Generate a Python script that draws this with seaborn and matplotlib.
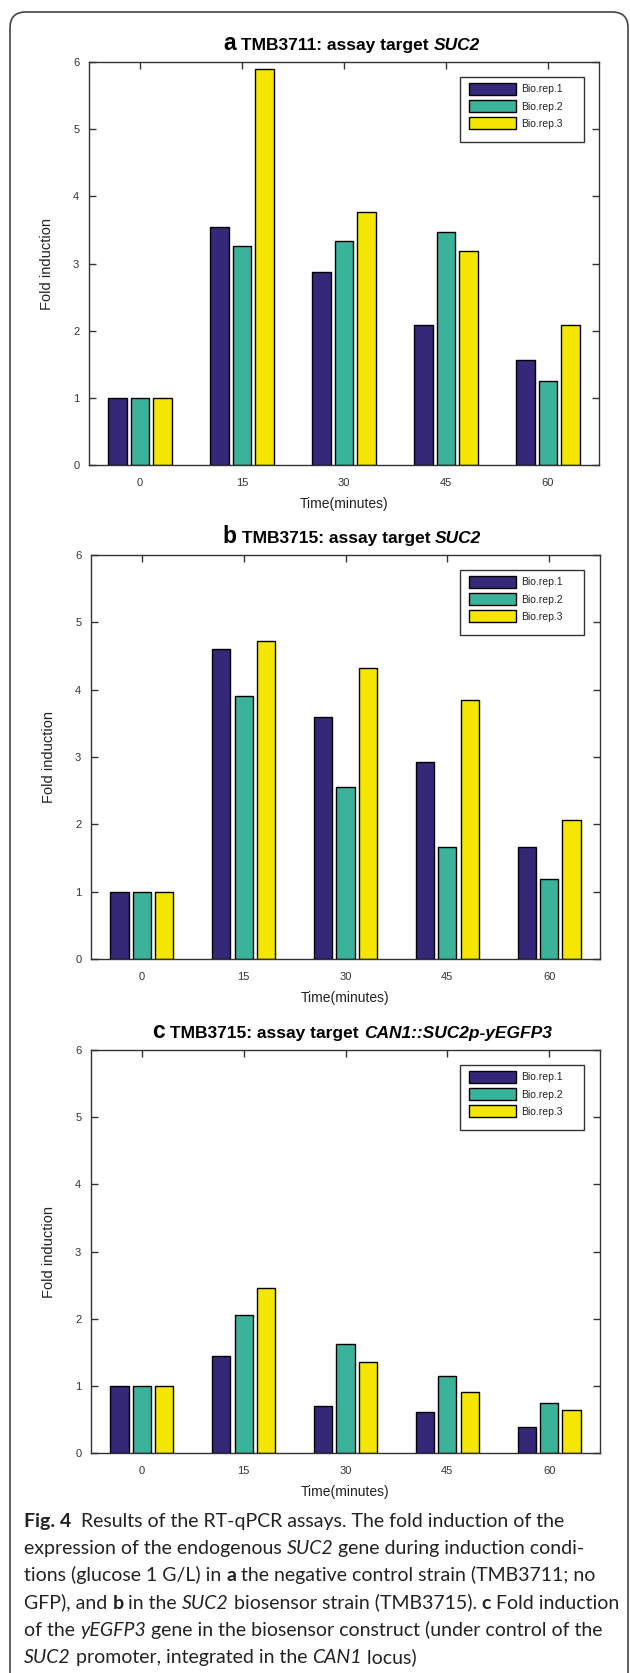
import numpy as np
import pandas as pd
import matplotlib
matplotlib.use('Agg')
import matplotlib.pyplot as plt
import seaborn as sns
from matplotlib.patches import FancyBboxPatch, Rectangle

# 数据
times = ['0', '15', '30', '45', '60']
reps = ['Bio.rep.1', 'Bio.rep.2', 'Bio.rep.3']
rep_colors = ['#352879', '#3BB39A', '#F4E600']

suc2_tmb3711 = {
    'Bio.rep.1': [1.0, 3.54, 2.87, 2.09, 1.57],
    'Bio.rep.2': [1.0, 3.26, 3.34, 3.47, 1.25],
    'Bio.rep.3': [1.0, 5.90, 3.76, 3.18, 2.09],
}
suc2_tmb3715 = {
    'Bio.rep.1': [1.0, 4.61, 3.59, 2.92, 1.66],
    'Bio.rep.2': [1.0, 3.90, 2.56, 1.66, 1.19],
    'Bio.rep.3': [1.0, 4.73, 4.32, 3.85, 2.07],
}
gfp_tmb3715 = {
    'Bio.rep.1': [1.0, 1.45, 0.70, 0.61, 0.39],
    'Bio.rep.2': [1.0, 2.05, 1.62, 1.15, 0.75],
    'Bio.rep.3': [1.0, 2.45, 1.35, 0.91, 0.64],
}

yticks = [0, 1, 2, 3, 4, 5, 6]

W, H = 630, 1673
CAP_FONT = 'Lato'
R = dict(family=CAP_FONT, fontsize=14, color='#222222')
Bc = dict(family=CAP_FONT, fontsize=14, fontweight='bold', color='#222222')
Ic = dict(family=CAP_FONT, fontsize=14, style='italic', color='#222222')

caption = [
    [("Fig. 4", Bc), ("  Results of the RT-qPCR assays. The fold induction of the", R)],
    [("expression of the endogenous ", R), ("SUC2", Ic), (" gene during induction condi-", R)],
    [("tions (glucose 1 G/L) in ", R), ("a", Bc), (" the negative control strain (TMB3711; no", R)],
    [("GFP), and ", R), ("b", Bc), (" in the ", R), ("SUC2", Ic),
     (" biosensor strain (TMB3715). ", R), ("c", Bc), (" Fold induction", R)],
    [("of the ", R), ("yEGFP3", Ic), (" gene in the biosensor construct (under control of the", R)],
    [("SUC2", Ic), (" promoter, integrated in the ", R), ("CAN1", Ic), (" locus)", R)],
]

TL = dict(family='Liberation Sans', fontsize=16.5, fontweight='bold', color='black')
TT = dict(family='Liberation Sans', fontsize=12.5, fontweight='bold', color='black')
TI = dict(family='Liberation Sans', fontsize=12.5, fontweight='bold', style='italic', color='black')

panels = [
    (suc2_tmb3711, [("a", TL), (" TMB3711: assay target ", TT), ("SUC2", TI)], (89, 599, 62, 465)),
    (suc2_tmb3715, [("b", TL), (" TMB3715: assay target ", TT), ("SUC2", TI)], (91, 600, 555, 959)),
    (gfp_tmb3715, [("c", TL), (" TMB3715: assay target ", TT), ("CAN1::SUC2p-yEGFP3", TI)], (91, 600, 1050, 1453)),
]


def seg_width(fig, r, s, kw):
    # 用 'x' 测量, 保留尾部空格
    t1 = fig.text(0, 0, s + 'x', **kw)
    t2 = fig.text(0, 0, 'x', **kw)
    w = t1.get_window_extent(r).width - t2.get_window_extent(r).width
    t1.remove()
    t2.remove()
    return w


def rich_text(fig, x_px, y_px, parts, ha='left'):
    r = fig.canvas.get_renderer()
    widths = [seg_width(fig, r, s, kw) for s, kw in parts]
    x = x_px - sum(widths) / 2 if ha == 'center' else x_px
    for (s, kw), w in zip(parts, widths):
        fig.text(x / W, 1 - y_px / H, s, va='baseline', ha='left', **kw)
        x += w


sns.set_theme(style='white')
plt.rcParams['font.family'] = ['Liberation Sans', 'DejaVu Sans']

fig = plt.figure(figsize=(W / 100, H / 100), dpi=100)
fig.patch.set_facecolor('white')

# 外框
frame = FancyBboxPatch((10 / W, 1 - 1690 / H), 618 / W, (1690 - 12) / H,
                       boxstyle='round,pad=0,rounding_size=0.025',
                       transform=fig.transFigure, fill=False,
                       edgecolor='#444444', linewidth=1.2, mutation_aspect=W / H)
fig.patches.append(frame)

for values, title_parts, (l, rr, t, b) in panels:
    ax = fig.add_axes([l / W, 1 - b / H, (rr - l) / W, (b - t) / H])
    df = pd.DataFrame([(tm, rep, v) for rep in reps for tm, v in zip(times, values[rep])],
                      columns=['time', 'rep', 'fold'])
    sns.barplot(data=df, x='time', y='fold', hue='rep', order=times, hue_order=reps,
                palette=rep_colors, width=0.66, gap=0.18, edgecolor='black',
                linewidth=1.0, saturation=1, errorbar=None, ax=ax)
    ax.set_xlim(-0.5, 4.5)
    ax.set_ylim(0, 6)
    ax.set_yticks(yticks)
    for sp in ax.spines.values():
        sp.set_visible(True)
        sp.set_color('#333333')
        sp.set_linewidth(1.0)
    ax.tick_params(axis='y', direction='in', left=True, right=True, length=5,
                   width=1, color='#333333', labelsize=8, labelcolor='#333333', pad=7)
    ax.tick_params(axis='x', direction='in', bottom=False, top=True, length=5,
                   width=1, color='#333333', labelsize=8, labelcolor='#333333', pad=9)
    ax.set_xlabel('Time(minutes)', fontsize=10, color='#222222')
    ax.set_ylabel('Fold induction', fontsize=10.5, color='#222222')
    ax.xaxis.set_label_coords(0.5, -0.08)
    ax.yaxis.set_label_coords(-0.068, 0.5)

    # 图例: 无边框, 另画方框
    aw, ah = rr - l, b - t
    leg = ax.legend(loc='upper left', bbox_to_anchor=((469 - l) / aw, 1 - 21 / ah),
                    borderaxespad=0, borderpad=0, fontsize=7.5, frameon=False,
                    handlelength=4.5, handleheight=1.35, labelspacing=0.53,
                    handletextpad=0.5)
    for txt in leg.get_texts():
        txt.set_color('#222222')
    leg.set_zorder(6)
    box = Rectangle(((460 - l) / aw, 1 - (15 + 65) / ah), 124 / aw, 65 / ah,
                    transform=ax.transAxes, facecolor='white', edgecolor='#333333',
                    linewidth=1.0, zorder=5)
    ax.add_patch(box)
    rich_text(fig, 352, t - 12, title_parts, ha='center')

for i, line in enumerate(caption):
    rich_text(fig, 24, 1527 + i * 27.2, line)

fig.savefig('out.png', dpi=100)
